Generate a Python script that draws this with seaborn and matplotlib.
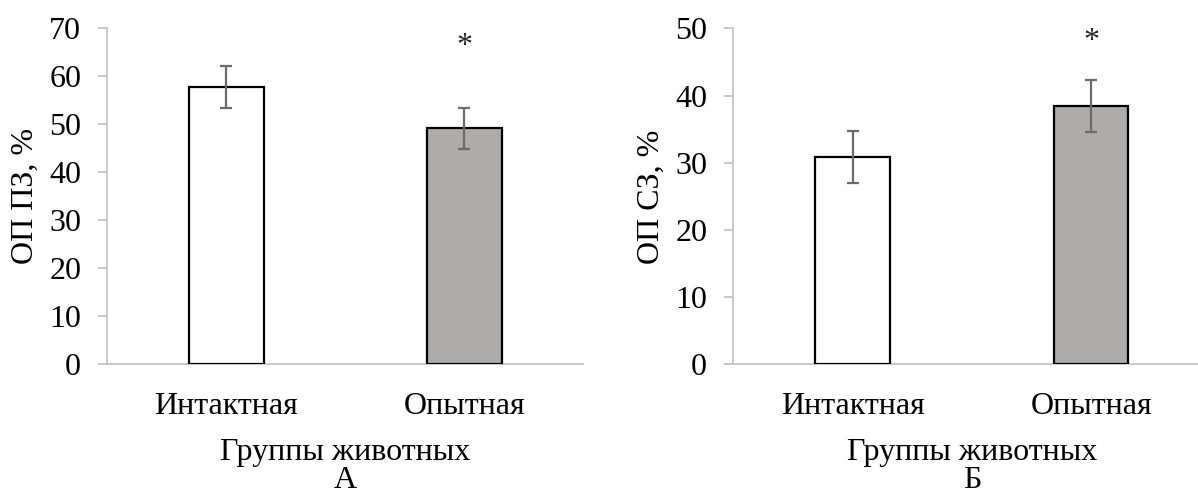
import matplotlib
matplotlib.use("Agg")
import matplotlib.pyplot as plt
import matplotlib.transforms as mtransforms
import seaborn as sns
import pandas as pd

# Group names and measured values (mean ± error) for both panels
groups = ["Интактная", "Опытная"]
op_pz = [57.8, 49.2]
op_pz_err = [4.35, 4.3]
op_sz = [30.9, 38.4]
op_sz_err = [3.85, 3.85]
# Height at which the significance marks sit
star_pz = 67.7
star_sz = 49.0

bar_colors = ["#ffffff", "#afabaa"]
panel_letters = ["А", "Б"]

sns.set_theme(style="white")
plt.rcParams["font.family"] = ["Liberation Serif", "DejaVu Serif"]

FS = 23
spine_color = "#bfbfbf"

fig = plt.figure(figsize=(11.98, 4.95), dpi=100)
ax_a = fig.add_axes([0.0896, 0.2640, 0.3973, 0.6788])
ax_b = fig.add_axes([0.6121, 0.2640, 0.3982, 0.6788])


def draw_panel(ax, values, errs, ymax, ylabel, star_y, letter):
    df = pd.DataFrame({"group": groups, "value": values})
    sns.barplot(data=df, x="group", y="value", hue="group", palette=bar_colors,
                legend=False, width=0.313, edgecolor="black", linewidth=1.6,
                errorbar=None, ax=ax)
    ax.errorbar(range(len(values)), values, yerr=errs, fmt="none",
                ecolor="#6b6b6b", elinewidth=1.6, capsize=4.2, capthick=1.6,
                zorder=5)
    ax.annotate("*", (1, star_y), xytext=(0, -5), textcoords="offset points",
                ha="center", va="center", fontsize=FS)
    ax.set_xlim(-0.5, 1.5)
    ax.set_ylim(0, ymax)
    ax.set_yticks(range(0, ymax + 1, 10))
    for side in ("top", "right"):
        ax.spines[side].set_visible(False)
    for side in ("left", "bottom"):
        ax.spines[side].set_color(spine_color)
        ax.spines[side].set_linewidth(1.2)
        ax.spines[side].set_zorder(0.5)
    ax.tick_params(axis="y", which="both", left=True, length=6.8, width=1.2,
                   color=spine_color, pad=12, labelsize=FS, labelcolor="black")
    ax.tick_params(axis="x", bottom=False, length=0, pad=20, labelsize=FS,
                   labelcolor="black")
    ax.set_ylabel(ylabel, fontsize=FS, color="black", labelpad=7)
    ax.set_xlabel("Группы животных", fontsize=FS, color="black", labelpad=12)
    ax.grid(False)
    # Panel letter under the axis title, near the lower edge of the figure
    trans = mtransforms.blended_transform_factory(ax.transAxes, fig.transFigure)
    ax.text(0.5, 0.015, letter, transform=trans, ha="center",
            va="baseline", fontsize=FS, color="black")


draw_panel(ax_a, op_pz, op_pz_err, 70, "ОП ПЗ, %", star_pz, panel_letters[0])
draw_panel(ax_b, op_sz, op_sz_err, 50, "ОП СЗ, %", star_sz, panel_letters[1])

fig.savefig("out.png", dpi=100, facecolor="white")
